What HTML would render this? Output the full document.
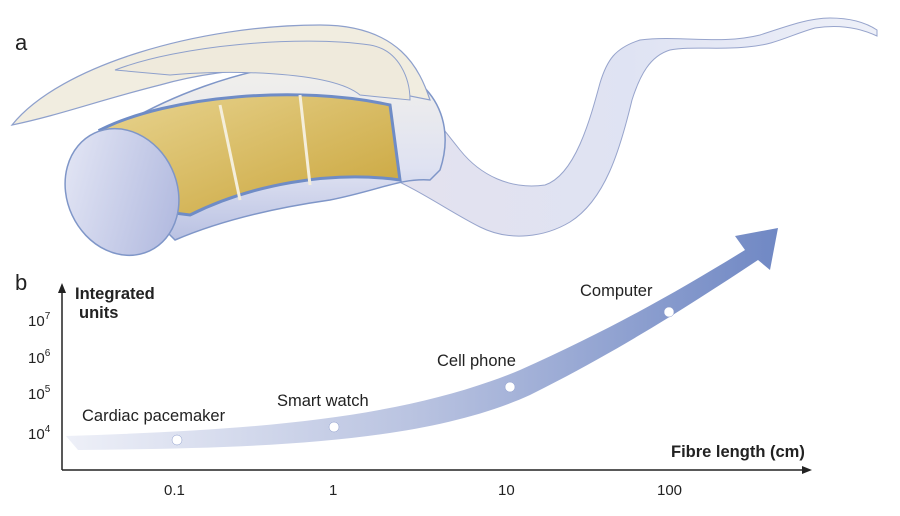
<!DOCTYPE html>
<html><head><meta charset="utf-8"><style>
body{margin:0;background:#fff;}
svg{display:block;font-family:"Liberation Sans",sans-serif;}
</style></head><body>
<svg width="900" height="516" viewBox="0 0 900 516">
<defs>
<linearGradient id="band" x1="0" y1="0" x2="1" y2="0">
<stop offset="0" stop-color="#eef0f8"/><stop offset="0.5" stop-color="#b8c2e0"/><stop offset="1" stop-color="#7088c4"/>
</linearGradient>
<linearGradient id="tube" x1="0" y1="0" x2="0" y2="1">
<stop offset="0" stop-color="#f3f1ea"/><stop offset="0.6" stop-color="#dfe2f2"/><stop offset="1" stop-color="#b9c1e2"/>
</linearGradient>
<linearGradient id="tail" x1="0" y1="0" x2="1" y2="0">
<stop offset="0" stop-color="#e4e2ee"/><stop offset="0.5" stop-color="#dfe3f3"/><stop offset="1" stop-color="#eef0f8"/>
</linearGradient>
<linearGradient id="cap" x1="0" y1="0" x2="1" y2="1">
<stop offset="0" stop-color="#e9ebf7"/><stop offset="1" stop-color="#aab3dc"/>
</linearGradient>
<linearGradient id="gold" x1="0" y1="0" x2="1" y2="1">
<stop offset="0" stop-color="#e8d490"/><stop offset="1" stop-color="#c9a43a"/>
</linearGradient>
</defs>
<text x="15" y="50" font-size="22" fill="#222">a</text>
<text x="15" y="290" font-size="22" fill="#222">b</text>
<path d="M400,67 C420,100 440,125 460,150 C480,175 510,190 545,185 C575,175 590,120 600,83 C607,60 615,48 640,40 C680,35 720,45 760,35 C790,25 810,18 830,18 C850,18 865,22 877,30 L877,36 C860,28 840,24 815,28 C790,35 775,45 747,47 C720,50 690,46 670,50 C650,56 640,75 632,100 C620,150 605,200 570,222 C545,237 510,242 480,227 C450,212 420,190 380,173 Z" fill="url(#tail)" stroke="#97a4cc" stroke-width="1"/>
<path d="M85,150 C150,100 250,60 350,60 C420,60 460,110 440,170 L430,180 C400,178 380,190 330,200 C260,210 210,225 175,240 Z" fill="url(#tube)" stroke="#7f96c8" stroke-width="1.5"/>
<path d="M12,125 C60,65 200,25 320,25 C400,25 420,70 430,100 L380,90 C330,60 230,65 160,85 C100,100 60,115 12,125 Z" fill="#f1ede0" stroke="#8ea0cc" stroke-width="1.2"/>
<path d="M115,70 C180,45 300,35 370,45 C400,50 410,80 410,100 L360,95 C330,70 220,70 170,75 Z" fill="#efeadc" stroke="#8ea0cc"/>
<path d="M100,130 C170,95 300,85 390,105 L400,180 C330,170 250,185 190,215 L150,210 Z" fill="url(#gold)" stroke="#6f8cc6" stroke-width="3"/>
<path d="M105,130 L160,215" stroke="#f4eedb" stroke-width="4"/>
<path d="M220,105 L240,200 M300,95 L310,185" stroke="#f4eedb" stroke-width="3"/>
<ellipse cx="122" cy="192" rx="55" ry="65" transform="rotate(-25 122 192)" fill="url(#cap)" stroke="#7f96c8" stroke-width="1.5"/>
<line x1="62" y1="470" x2="805" y2="470" stroke="#222" stroke-width="1.5"/>
<polygon points="812,470 802,466 802,474" fill="#222"/>
<line x1="62" y1="470" x2="62" y2="290" stroke="#222" stroke-width="1.5"/>
<polygon points="62,283 58,293 66,293" fill="#222"/>
<g font-size="15" fill="#222">
<text x="28" y="326">10<tspan font-size="10" dy="-7">7</tspan></text>
<text x="28" y="363">10<tspan font-size="10" dy="-7">6</tspan></text>
<text x="28" y="399">10<tspan font-size="10" dy="-7">5</tspan></text>
<text x="28" y="439">10<tspan font-size="10" dy="-7">4</tspan></text>
<text x="164" y="495">0.1</text><text x="329" y="495">1</text><text x="498" y="495">10</text><text x="657" y="495">100</text>
</g>
<text x="75" y="299" font-size="16.5" font-weight="bold" fill="#222">Integrated</text>
<text x="79" y="318" font-size="16.5" font-weight="bold" fill="#222">units</text>
<text x="671" y="457" font-size="16.5" font-weight="bold" fill="#222">Fibre length (cm)</text>
<path d="M66,436 C250,430 400,420 520,370 C610,330 680,290 745,250 L735,236 L778,228 L770,270 L758,260 C690,305 620,350 530,395 C420,445 250,448 78,450 Z" fill="url(#band)"/>
<g fill="#fff" stroke="#8a9acb" stroke-width="0.5">
<circle cx="177" cy="440" r="5"/><circle cx="334" cy="427" r="5"/><circle cx="510" cy="387" r="5"/><circle cx="669" cy="312" r="5"/>
</g>
<g font-size="16.5" fill="#222">
<text x="82" y="421">Cardiac pacemaker</text>
<text x="277" y="406">Smart watch</text>
<text x="437" y="366">Cell phone</text>
<text x="580" y="296">Computer</text>
</g>
</svg>
</body></html>
